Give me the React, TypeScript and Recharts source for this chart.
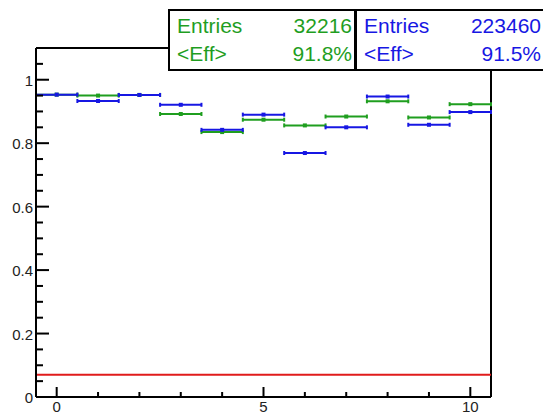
import React from 'react'
import { ScatterChart, Scatter, XAxis, YAxis, ErrorBar, ReferenceLine } from 'recharts'

// bin centres, one per bin of width 1
const bins = [0, 1, 2, 3, 4, 5, 6, 7, 8, 9, 10]
const greenEff = [0.953, 0.95, 0.952, 0.892, 0.835, 0.874, 0.856, 0.884, 0.932, 0.881, 0.923]
const blueEff = [0.953, 0.933, 0.952, 0.921, 0.842, 0.89, 0.769, 0.85, 0.947, 0.858, 0.898]
const binHalfWidth = 0.5
const threshold = 0.07

const xTicks = [0, 1, 2, 3, 4, 5, 6, 7, 8, 9, 10]
const xMajor = [0, 5, 10]
const yTicks = [0, 0.05, 0.1, 0.15, 0.2, 0.25, 0.3, 0.35, 0.4, 0.45, 0.5, 0.55, 0.6, 0.65, 0.7, 0.75, 0.8, 0.85, 0.9, 0.95, 1, 1.05]
const yMajor = [0, 0.2, 0.4, 0.6, 0.8, 1]

const xDomain: [number, number] = [-0.5, 10.5]
const yDomain: [number, number] = [0, 1.1]

const green = '#1f9e1f'
const blue = '#1717e3'
const red = '#e01b1b'
const font = '"Liberation Sans", Arial, sans-serif'

const greenData = bins.map((x, i) => ({ x, y: greenEff[i], ex: binHalfWidth }))
const blueData = bins.map((x, i) => ({ x, y: blueEff[i], ex: binHalfWidth }))

const isYMajor = (v: number) => yMajor.some(m => Math.abs(m - v) < 1e-6)

// tick marks sit on the frame edges and point inward (ROOT style)
const xTickMarks = xTicks.map(v => ({ x: v, y: yDomain[0], major: xMajor.includes(v) }))
const yTickMarks = yTicks.map(v => ({ x: xDomain[0], y: v, major: isYMajor(v) }))

const XMark = (props: any) => {
  const { cx, cy, payload } = props
  const len = payload.major ? 10 : 5
  return <rect x={cx - 1} y={cy - len} width={2} height={len} fill="#000" />
}

const YMark = (props: any) => {
  const { cx, cy, payload } = props
  const len = payload.major ? 13 : 7
  return <rect x={cx} y={cy - 1} width={len} height={2} fill="#000" />
}

const XLabel = (props: any) => {
  const { x, y, payload } = props
  if (!xMajor.includes(payload.value)) return null
  return (
    <text x={x} y={y + 15} textAnchor="middle" fontSize={15} fontFamily={font} fill="#222">
      {payload.value}
    </text>
  )
}

const YLabel = (props: any) => {
  const { x, y, payload } = props
  if (!isYMajor(payload.value)) return null
  return (
    <text x={x - 3} y={y + 6} textAnchor="end" fontSize={15} fontFamily={font} fill="#222">
      {payload.value}
    </text>
  )
}

const Marker = (props: any) => {
  const { cx, cy, fill } = props
  return <rect x={cx - 2} y={cy - 2} width={4} height={4} fill={fill} />
}

const StatBox = ({ left, width, color, entries, eff }: { left: number; width: number; color: string; entries: string; eff: string }) => (
  <div
    style={{
      position: 'absolute', left, top: 9, width, height: 62, boxSizing: 'border-box',
      border: '2px solid #000', background: '#fff', color, fontFamily: font, fontSize: 21,
      padding: '1px 2px 0 7px', lineHeight: '28px',
    }}
  >
    <div style={{ display: 'flex', justifyContent: 'space-between' }}><span>Entries</span><span>{entries}</span></div>
    <div style={{ display: 'flex', justifyContent: 'space-between' }}><span>&lt;Eff&gt;</span><span>{eff}</span></div>
  </div>
)

export default function App() {
  return (
    <div style={{ position: 'fixed', left: 0, top: 0, width: 543, height: 413, background: '#fff' }}>
      <ScatterChart width={543} height={413} margin={{ top: 48, right: 52, left: 0, bottom: 0 }}>
        <XAxis
          type="number"
          dataKey="x"
          domain={xDomain}
          ticks={xTicks}
          tick={<XLabel />}
          tickSize={0}
          tickMargin={0}
          tickLine={false}
          axisLine={{ stroke: '#000', strokeWidth: 2 }}
          height={16}
          interval={0}
        />
        <YAxis
          type="number"
          dataKey="y"
          domain={yDomain}
          ticks={yTicks}
          tick={<YLabel />}
          tickSize={0}
          tickMargin={0}
          tickLine={false}
          axisLine={{ stroke: '#000', strokeWidth: 2 }}
          width={36}
          interval={0}
        />
        <ReferenceLine y={yDomain[1]} stroke="#000" strokeWidth={2} />
        <ReferenceLine x={xDomain[1]} stroke="#000" strokeWidth={2} />
        <ReferenceLine y={threshold} stroke={red} strokeWidth={2} />
        <Scatter data={xTickMarks} shape={<XMark />} isAnimationActive={false} />
        <Scatter data={yTickMarks} shape={<YMark />} isAnimationActive={false} />
        <Scatter data={greenData} fill={green} shape={<Marker />} isAnimationActive={false}>
          <ErrorBar dataKey="ex" direction="x" width={2} stroke={green} strokeWidth={2} isAnimationActive={false} />
        </Scatter>
        <Scatter data={blueData} fill={blue} shape={<Marker />} isAnimationActive={false}>
          <ErrorBar dataKey="ex" direction="x" width={2} stroke={blue} strokeWidth={2} isAnimationActive={false} />
        </Scatter>
      </ScatterChart>
      <StatBox left={168} width={188} color={green} entries="32216" eff="91.8%" />
      <StatBox left={355} width={190} color={blue} entries="223460" eff="91.5%" />
    </div>
  )
}
